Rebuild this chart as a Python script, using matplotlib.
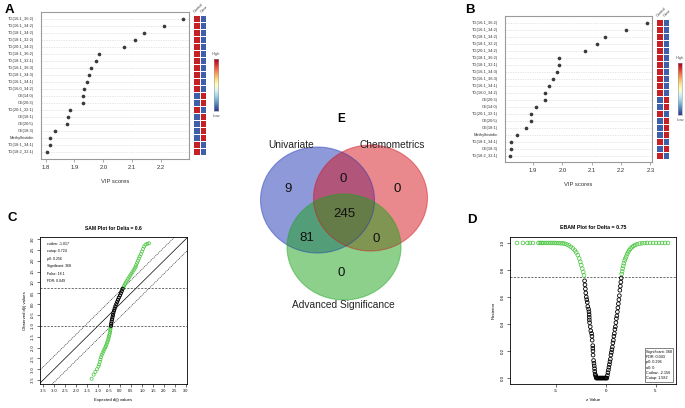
import numpy as np
import matplotlib
matplotlib.use("Agg")
import matplotlib.pyplot as plt
from matplotlib.patches import Ellipse

plt.rcParams['font.family'] = ['Liberation Sans', 'DejaVu Sans']

W, H = 685, 408

# ---- panel A : VIP scores (PLS-DA) ----
A_names = ['TG(16:1_36:2)', 'TG(16:1_34:2)', 'TG(18:1_34:2)', 'TG(18:1_32:2)', 'TG(20:1_34:2)',
           'TG(18:1_36:2)', 'TG(18:1_32:1)', 'TG(16:1_36:3)', 'TG(18:1_34:3)', 'TG(16:1_34:1)',
           'TG(16:0_34:2)', 'CE(14:0)', 'CE(20:3)', 'TG(20:1_32:1)', 'CE(18:1)',
           'CE(20:5)', 'CE(18:3)', 'Methylhistidin', 'TG(18:1_34:1)', 'TG(18:2_32:1)']
A_vip = [2.276, 2.212, 2.140, 2.110, 2.073, 1.985, 1.976, 1.957, 1.951, 1.944,
         1.933, 1.928, 1.928, 1.883, 1.879, 1.875, 1.834, 1.816, 1.814, 1.805]
# 1 = higher in Control, 0 = higher in Case
A_control_high = [1, 1, 1, 1, 1, 1, 1, 1, 1, 1, 1, 0, 0, 1, 0, 0, 0, 0, 1, 1]

# ---- panel B ----
B_names = ['TG(16:1_36:2)', 'TG(16:1_34:2)', 'TG(18:1_34:2)', 'TG(18:1_32:2)', 'TG(20:1_34:2)',
           'TG(18:1_36:2)', 'TG(18:1_32:1)', 'TG(16:1_34:3)', 'TG(16:1_36:3)', 'TG(16:1_34:1)',
           'TG(16:0_34:2)', 'CE(20:3)', 'CE(14:0)', 'TG(20:1_32:1)', 'CE(20:5)',
           'CE(18:1)', 'Methylhistidin', 'TG(18:1_34:1)', 'CE(18:3)', 'TG(18:2_32:1)']
B_vip = [2.288, 2.216, 2.147, 2.118, 2.076, 1.990, 1.990, 1.981, 1.967, 1.955,
         1.941, 1.940, 1.911, 1.893, 1.892, 1.875, 1.844, 1.826, 1.824, 1.823]
B_control_high = [1, 1, 1, 1, 1, 1, 1, 1, 1, 1, 1, 0, 0, 1, 0, 0, 0, 1, 0, 1]

heat_cols = ['Control', 'Case']

# ---- panel C : SAM plot ----
sam_delta = 0.6
sam_cutlow = -1.017
sam_cutup = 0.724
sam_info = ['cutlow: -1.017', 'cutup: 0.724', 'p0: 0.256', 'Significant: 368', 'False: 18.1', 'FDR: 0.049']
sam_low_x = [-0.42, -0.43, -0.44, -0.45, -0.47, -0.49, -0.51, -0.53, -0.55, -0.58, -0.61, -0.64, -0.67,
             -0.71, -0.75, -0.79, -0.83, -0.86, -0.89, -0.92, -0.95, -0.98, -1.05, -1.12, -1.20, -1.29]
sam_low_y = [-1.05, -1.12, -1.20, -1.28, -1.36, -1.44, -1.52, -1.60, -1.68, -1.76, -1.85, -1.93, -2.00,
             -2.08, -2.16, -2.25, -2.34, -2.44, -2.55, -2.66, -2.78, -2.88, -3.00, -3.12, -3.25, -3.44]
sam_mid_x = [-0.41, -0.40, -0.38, -0.36, -0.34, -0.32, -0.30, -0.27, -0.24, -0.21, -0.17, -0.13,
             -0.09, -0.05, 0.00, 0.04, 0.08, 0.12]
sam_mid_y = [-1.00, -0.90, -0.80, -0.70, -0.60, -0.50, -0.40, -0.30, -0.20, -0.10, 0.00, 0.10,
             0.20, 0.30, 0.40, 0.50, 0.60, 0.70]
sam_up_x = [0.15, 0.19, 0.23, 0.27, 0.32, 0.37, 0.42, 0.47, 0.52, 0.57, 0.62, 0.67, 0.71,
            0.74, 0.78, 0.82, 0.86, 0.90, 0.95, 1.00, 1.05, 1.10, 1.16, 1.25, 1.32]
sam_up_y = [0.76, 0.84, 0.92, 1.00, 1.08, 1.16, 1.24, 1.32, 1.40, 1.48, 1.56, 1.64, 1.72,
            1.80, 1.90, 2.00, 2.10, 2.20, 2.30, 2.42, 2.54, 2.65, 2.74, 2.78, 2.80]

# ---- panel D : EBAM plot ----
ebam_delta = 0.75
ebam_info = ['Significant: 368', 'FDR: 0.043', 'p0: 0.296', 'a0: 0', 'Cutlow: -2.156', 'Cutup: 1.582']
eb_lg_z = [-8.9, -8.3, -7.85, -7.6, -7.3, -6.75, -6.6, -6.45, -6.3, -6.1, -5.9, -5.7, -5.5, -5.3, -5.1,
           -4.9, -4.7, -4.5, -4.3, -4.1, -3.9, -3.7, -3.5, -3.3, -3.1, -2.95, -2.8, -2.65, -2.55, -2.45,
           -2.35, -2.25, -2.18]
eb_lg_p = [1.0, 1.0, 1.0, 1.0, 1.0, 1.0, 1.0, 1.0, 1.0, 1.0, 1.0, 1.0, 1.0, 1.0, 1.0,
           0.999, 0.999, 0.998, 0.997, 0.994, 0.989, 0.982, 0.972, 0.96, 0.945, 0.93, 0.91, 0.885, 0.86, 0.835,
           0.81, 0.785, 0.76]
eb_lb_z = [-2.12, -2.08, -2.04, -2.00, -1.95, -1.90, -1.85, -1.80, -1.72, -1.68, -1.66, -1.65, -1.64,
           -1.62, -1.55, -1.50, -1.42, -1.38, -1.36, -1.30, -1.29, -1.28, -1.27, -1.22, -1.18, -1.15,
           -1.12, -1.10, -1.06, -1.02, -0.98]
eb_lb_p = [0.72, 0.69, 0.66, 0.63, 0.60, 0.58, 0.56, 0.53, 0.51, 0.49, 0.47, 0.45, 0.43,
           0.41, 0.38, 0.35, 0.33, 0.31, 0.28, 0.24, 0.22, 0.20, 0.17, 0.13, 0.11, 0.09,
           0.07, 0.05, 0.03, 0.02, 0.01]
eb_zero_z = [-0.95, -0.88, -0.80, -0.72, -0.64, -0.56, -0.48, -0.40, -0.32, -0.24, -0.16, -0.08,
             0.00, 0.06, 0.12]
eb_zero_p = [0.0, 0.0, 0.0, 0.0, 0.0, 0.0, 0.0, 0.0, 0.0, 0.0, 0.0, 0.0, 0.0, 0.0, 0.0]
eb_rb_z = [0.17, 0.22, 0.27, 0.32, 0.37, 0.42, 0.47, 0.52, 0.57, 0.62, 0.67, 0.72, 0.77, 0.82, 0.87,
           0.92, 0.97, 1.02, 1.07, 1.12, 1.17, 1.22, 1.27, 1.32, 1.37, 1.42, 1.47, 1.52, 1.56]
eb_rb_p = [0.02, 0.04, 0.06, 0.08, 0.10, 0.12, 0.14, 0.17, 0.19, 0.21, 0.23, 0.26, 0.28, 0.31, 0.33,
           0.36, 0.38, 0.41, 0.44, 0.46, 0.49, 0.52, 0.55, 0.58, 0.61, 0.65, 0.68, 0.71, 0.74]
eb_rg_z = [1.60, 1.65, 1.70, 1.76, 1.82, 1.90, 1.98, 2.06, 2.15, 2.25, 2.36, 2.48, 2.62, 2.78, 2.95,
           3.15, 3.40, 3.65, 3.90, 4.15, 4.45, 4.75, 5.05, 5.35, 5.65, 5.95, 6.25]
eb_rg_p = [0.77, 0.79, 0.81, 0.83, 0.85, 0.87, 0.885, 0.90, 0.918, 0.933, 0.946, 0.958, 0.968, 0.977, 0.985,
           0.991, 0.995, 0.998, 0.999, 1.0, 1.0, 1.0, 1.0, 1.0, 1.0, 1.0, 1.0]

# ---- panel E : Venn counts ----
venn_sets = ['Univariate', 'Chemometrics', 'Advanced Significance']
venn_counts = {'100': 9, '010': 0, '001': 0, '110': 0, '101': 81, '011': 0, '111': 245}

GREEN = '#44c43a'


def box(l, t, r, b):
    return [l / W, 1 - b / H, (r - l) / W, (b - t) / H]


def vip_panel(fig, names, vip, ctrl_high, main, heat, cbar, xlim, xticks, ylim):
    n = len(names)
    ypos = np.arange(n, 0, -1)
    ax = fig.add_axes(box(*main))
    ax.set_yticks(ypos)
    ax.set_yticklabels(names, fontsize=2.9, color='#333333')
    ax.tick_params(axis='y', length=0, pad=5)
    ax.grid(axis='y', color='#dddddd', lw=0.5, ls=(0, (2, 1.5)))
    ax.scatter(vip, ypos, s=7, color='#3a3a3a', zorder=3, lw=0)
    ax.set_xlim(*xlim)
    ax.set_ylim(*ylim)
    ax.set_xticks(xticks)
    ax.set_xticklabels(['%.1f' % v for v in xticks], fontsize=4.2, color='#333333')
    ax.tick_params(axis='x', length=2, width=0.5, pad=2.5, color='#888888')
    ax.set_xlabel('VIP scores', fontsize=4.2, color='#333333', labelpad=6)
    for s in ax.spines.values():
        s.set_color('#9a9a9a')
        s.set_linewidth(0.8)

    # side heatmap
    axh = fig.add_axes(box(*heat))
    mat = np.array([[0.93, 0.07] if c else [0.07, 0.93] for c in ctrl_high])
    axh.pcolormesh(np.arange(3), np.arange(n + 1) + 0.5, mat[::-1], cmap='RdYlBu_r', vmin=0, vmax=1,
                   edgecolors='white', linewidth=0.6)
    axh.set_xlim(0, 2)
    axh.set_ylim(*ylim)
    axh.axis('off')
    for i, c in enumerate(heat_cols):
        axh.text(i + 0.4, n + 0.7, c, rotation=45, fontsize=2.8, color='#444444',
                 ha='left', va='bottom', rotation_mode='anchor')

    # colour key
    axc = fig.add_axes(box(*cbar))
    grad = np.linspace(1, 0, 100).reshape(-1, 1)
    axc.imshow(grad, aspect='auto', cmap='RdYlBu_r', extent=[0, 1, 0, 1])
    axc.set_xticks([])
    axc.set_yticks([])
    for s in axc.spines.values():
        s.set_color('#999999')
        s.set_linewidth(0.4)
    axc.text(0.5, 1.05, 'High', transform=axc.transAxes, ha='center', va='bottom', fontsize=3, color='#555555')
    axc.text(0.5, -0.05, 'Low', transform=axc.transAxes, ha='center', va='top', fontsize=3, color='#555555')
    return ax


def r_style(ax, xticks, yticks, xfmt, yfmt, fs):
    ax.set_xticks(xticks)
    ax.set_xticklabels([xfmt % v for v in xticks], fontsize=fs)
    ax.set_yticks(yticks)
    ax.set_yticklabels([yfmt % v for v in yticks], fontsize=fs, rotation=90, va='center')
    ax.tick_params(length=2, width=0.4, pad=1.5)
    for s in ax.spines.values():
        s.set_linewidth(0.6)


fig = plt.figure(figsize=(W / 100, H / 100), dpi=100)

# panel letters
for letter, x, y in [('A', 5, 10), ('B', 465, 10), ('C', 8, 218), ('D', 467, 220)]:
    fig.text(x / W, 1 - y / H, letter, fontsize=9.5, fontweight='bold', va='center', ha='left')

vip_panel(fig, A_names, A_vip, A_control_high, (41, 12, 189, 159), (193, 12, 206, 159),
          (214, 59, 218, 111), (1.784, 2.297), [1.8, 1.9, 2.0, 2.1, 2.2], (0, 21))
vip_panel(fig, B_names, B_vip, B_control_high, (505, 16, 652, 162), (656, 16, 669, 162),
          (678, 63, 682, 115), (1.8045, 2.3057), [1.9, 2.0, 2.1, 2.2, 2.3], (0.14, 21))

# SAM plot
axs = fig.add_axes(box(40, 237, 187, 384))
lims = np.array([-5.0, 5.0])
axs.plot(lims, lims, color='black', lw=0.5)
axs.plot(lims, lims + sam_delta, color='black', lw=0.4, ls=(0, (2, 1.5)))
axs.plot(lims, lims - sam_delta, color='black', lw=0.4, ls=(0, (2, 1.5)))
axs.axhline(sam_cutup, color='#333333', lw=0.5, ls=(0, (3, 2)))
axs.axhline(sam_cutlow, color='#333333', lw=0.5, ls=(0, (3, 2)))
axs.scatter(sam_low_x, sam_low_y, s=5, facecolors='none', edgecolors=GREEN, linewidths=0.5, zorder=3)
axs.scatter(sam_up_x, sam_up_y, s=5, facecolors='none', edgecolors=GREEN, linewidths=0.5, zorder=3)
axs.scatter(sam_mid_x, sam_mid_y, s=5, facecolors='none', edgecolors='black', linewidths=0.7, zorder=3)
axs.set_xlim(-3.64, 3.05)
axs.set_ylim(-3.68, 3.09)
sam_ticks = np.arange(-3.5, 3.01, 0.5)
r_style(axs, sam_ticks, sam_ticks, '%.1f', '%.1f', 2.8)
axs.set_title('SAM Plot for Delta = %.1f' % sam_delta, fontsize=3.6, fontweight='bold', pad=5)
axs.set_xlabel('Expected d(i) values', fontsize=3.1, labelpad=4)
axs.set_ylabel('Observed d(i) values', fontsize=3.1, labelpad=3)
for i, t in enumerate(sam_info):
    axs.text(0.045, 0.965 - i * 0.05, t, transform=axs.transAxes, fontsize=2.5, va='top', ha='left')

# EBAM plot
axe = fig.add_axes(box(510, 237, 676, 384))
axe.axhline(ebam_delta, color='#333333', lw=0.5, ls=(0, (3, 2)))
for z, p in [(eb_lg_z, eb_lg_p), (eb_rg_z, eb_rg_p)]:
    axe.scatter(z, p, s=7, facecolors='none', edgecolors=GREEN, linewidths=0.5, zorder=3)
for z, p in [(eb_lb_z, eb_lb_p), (eb_zero_z, eb_zero_p), (eb_rb_z, eb_rb_p)]:
    axe.scatter(z, p, s=7, facecolors='none', edgecolors='black', linewidths=0.6, zorder=3)
axe.set_xlim(-9.6, 7.05)
axe.set_ylim(-0.044, 1.044)
r_style(axe, [-5, 0, 5], [0.0, 0.2, 0.4, 0.6, 0.8, 1.0], '%d', '%.1f', 3.2)
axe.set_title('EBAM Plot for Delta = %.2f' % ebam_delta, fontsize=3.8, fontweight='bold', pad=6)
axe.set_xlabel('z Value', fontsize=3.2, labelpad=4)
axe.set_ylabel('Posterior', fontsize=3.2, labelpad=4)
axe.text(0.82, 0.025, '\n'.join(ebam_info), transform=axe.transAxes, fontsize=2.7, va='bottom', ha='left',
         linespacing=1.45, bbox=dict(boxstyle='square,pad=0.35', fc='white', ec='#222222', lw=0.4))

# Venn diagram (pixel layout inside its own axes)
axv = fig.add_axes(box(240, 110, 445, 315))
axv.set_xlim(240, 445)
axv.set_ylim(315, 110)
axv.axis('off')
circles = [((317.5, 200), '#1f35b5'), ((370.5, 198), '#d4121c'), ((344, 247), '#1aa31a')]
for (c, col) in circles:
    axv.add_patch(Ellipse(c, 114, 106, facecolor=col, alpha=0.5, edgecolor='none'))
for (c, col) in circles:
    axv.add_patch(Ellipse(c, 114, 106, facecolor='none', edgecolor=col, alpha=0.45, lw=0.8))
set_xy = [(291, 145), (392, 145), (343, 305.5)]
for name, (x, y) in zip(venn_sets, set_xy):
    axv.text(x, y, name, fontsize=7.3, ha='center', va='center', color='#222222')
region_xy = {'100': (288.3, 189.5), '110': (343.3, 179.5), '010': (396.7, 188.5), '111': (344, 214),
             '101': (306.7, 238.3), '011': (375.7, 239), '001': (341, 272.7)}
for key, (x, y) in region_xy.items():
    axv.text(x, y, str(venn_counts[key]), fontsize=9.5, ha='center', va='center', color='#111111')
axv.text(341, 119, 'E', fontsize=8.5, fontweight='bold', ha='center', va='center')

fig.savefig('out.png', dpi=100)
